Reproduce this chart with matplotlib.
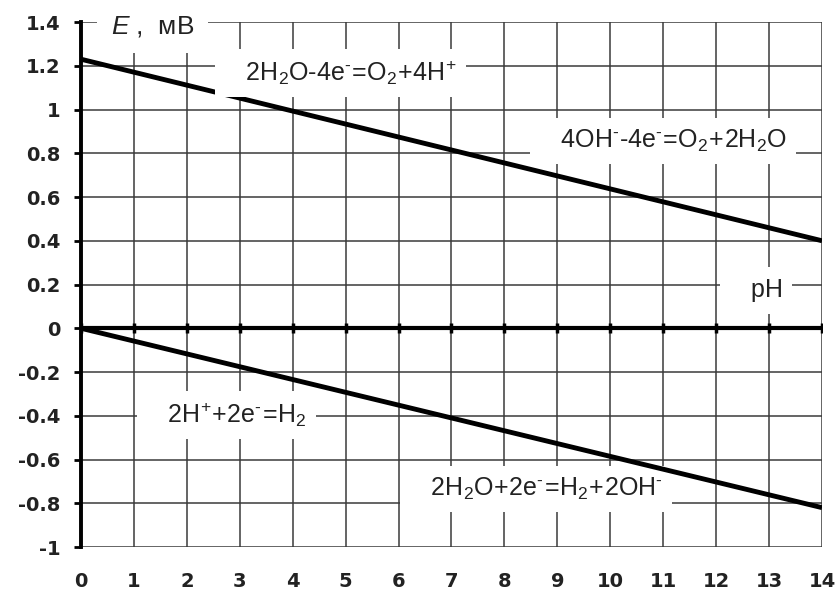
import matplotlib.pyplot as plt

plt.rcParams['font.family'] = ['Liberation Sans', 'DejaVu Sans']
plt.rcParams['mathtext.fontset'] = 'custom'
plt.rcParams['mathtext.rm'] = 'Liberation Sans'
plt.rcParams['mathtext.it'] = 'Liberation Sans:italic'

ph = [0, 14]
e_o2 = [1.23, 0.40]     # верхняя линия (кислород)
e_h2 = [0.0, -0.82]     # нижняя линия (водород)

xticks = list(range(0, 15))
yticks = [-1, -0.8, -0.6, -0.4, -0.2, 0, 0.2, 0.4, 0.6, 0.8, 1, 1.2, 1.4]
ylabels = ['-1', '-0.8', '-0.6', '-0.4', '-0.2', '0', '0.2', '0.4', '0.6', '0.8', '1', '1.2', '1.4']

fig = plt.figure(figsize=(8.4, 6), dpi=100)
ax = fig.add_axes([0.0964, 0.0883, 0.8822, 0.875])

ax.set_xlim(0, 14)
ax.set_ylim(-1, 1.4)
ax.set_xticks(xticks)
ax.set_yticks(yticks)
ax.set_yticklabels(ylabels)
ax.grid(True, color='#3a3a3a', linewidth=1.1)
ax.set_axisbelow(True)

for s in ['top', 'right', 'bottom']:
    ax.spines[s].set_visible(False)
ax.spines['left'].set_linewidth(2.8)
ax.tick_params(axis='x', length=0, pad=18, labelsize=14)
ax.tick_params(axis='y', length=5, width=2, pad=10, labelsize=14)
for lab in ax.get_xticklabels() + ax.get_yticklabels():
    lab.set_fontweight('bold')
    lab.set_family('DejaVu Sans')
    lab.set_color('#222222')

# ось pH
ax.axhline(0, color='black', linewidth=3, zorder=3)
ax.plot(xticks, [0]*len(xticks), linestyle='none', marker='|', markersize=7,
        markeredgewidth=2.5, color='black', zorder=3)

ax.plot(ph, e_o2, color='black', linewidth=3.5, zorder=4, solid_capstyle='butt')
ax.plot(ph, e_h2, color='black', linewidth=3.5, zorder=4, solid_capstyle='butt')

kw = dict(fontsize=18, ha='center', va='center', zorder=5, color='#222222',
          bbox=dict(facecolor='white', edgecolor='none', pad=7))
m = r'^{\text{-}}'
eq = r'\!=\!'

ax.text(1.35, 1.38, r'$\it{E}$ ,  мВ', fontsize=19, ha='center', va='center', zorder=5,
        color='#222222', bbox=dict(facecolor='white', edgecolor='none', pad=10))
ax.text(4.9, 1.167, r'$\mathregular{\quad 2H_2O\text{-}4e' + m + eq + r'O_2\!+\!4H^{+}\quad}$', **kw)
ax.text(11.0, 0.855, r'$\mathregular{\quad 4OH' + m + r'\text{-}4e' + m + eq + r'O_2\!+\!2H_2O\quad}$', **kw)
ax.text(12.75, 0.173, r'$\mathregular{\quad pH\quad}$', **kw)
ax.text(2.75, -0.397, r'$\mathregular{\quad 2H^{+}\!+\!2e' + m + eq + r'H_2\quad}$', **kw)
kw['zorder'] = 3.5
ax.text(8.6, -0.735, r'$\mathregular{\quad 2H_2O\!+\!2e' + m + eq + r'H_2\!+\!2OH' + m + r'\quad}$', **kw)

fig.savefig('out.png', dpi=100)
